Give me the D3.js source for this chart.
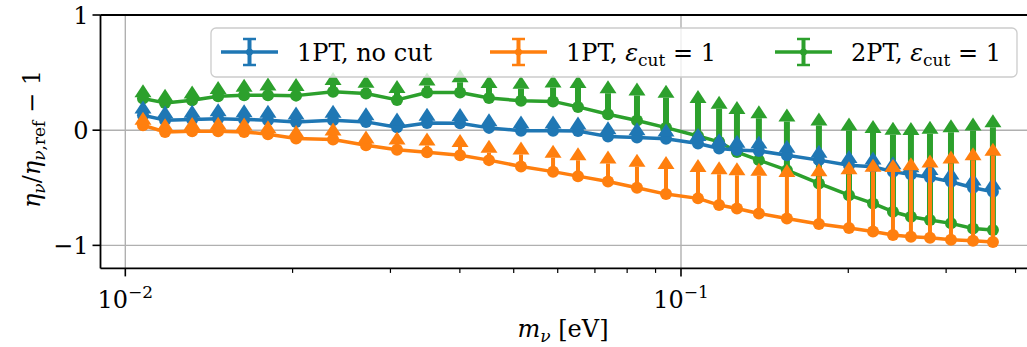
<!DOCTYPE html>
<html><head><meta charset="utf-8">
<script src="https://cdn.jsdelivr.net/npm/d3@7"></script>
<style>body{margin:0;background:#fff}svg{display:block}</style>
</head><body>
<svg id="chart" width="1027" height="347" font-family="'DejaVu Serif', 'Liberation Serif', serif"></svg>
<script>
const masses = [0.01076,0.01179,0.01319,0.01469,0.01636,0.01806,0.02029,0.02365,0.02711,0.03083,0.03491,0.04003,0.04513,0.05153,0.05885,0.06526,0.07390,0.08333,0.09398,0.1073,0.1171,0.1261,0.1381,0.1551,0.1771,0.2006,0.2216,0.2407,0.2593,0.2806,0.3061,0.3354,0.3642];
const blueVals = [0.13,0.087,0.093,0.10,0.093,0.087,0.072,0.087,0.072,0.025,0.062,0.06,0.02,-0.005,-0.005,-0.008,-0.055,-0.063,-0.075,-0.115,-0.159,-0.173,-0.18,-0.217,-0.26,-0.304,-0.318,-0.36,-0.385,-0.41,-0.448,-0.50,-0.535];
const blueErr = [0.015,0.015,0.015,0.02,0.02,0.02,0.02,0.02,0.015,0.015,0.02,0.02,0.015,0.02,0.02,0.015,0.02,0.02,0.02,0.02,0.02,0.02,0.02,0.02,0.02,0.02,0.02,0.02,0.02,0.02,0.02,0.02,0.02];
const orangeVals = [0.043,-0.015,-0.009,-0.009,-0.015,-0.035,-0.072,-0.081,-0.13,-0.17,-0.192,-0.217,-0.26,-0.315,-0.36,-0.399,-0.445,-0.50,-0.555,-0.592,-0.65,-0.68,-0.723,-0.766,-0.815,-0.85,-0.88,-0.91,-0.925,-0.934,-0.952,-0.96,-0.97];
const orangeErr = [0.005,0.005,0.01,0.012,0.012,0.008,0.005,0.035,0.015,0.045,0.06,0.07,0.065,0.104,0.121,0.139,0.156,0.182,0.217,0.228,0.267,0.289,0.327,0.36,0.416,0.467,0.52,0.546,0.578,0.611,0.662,0.70,0.749];
const greenVals = [0.275,0.237,0.26,0.295,0.304,0.304,0.30,0.333,0.318,0.263,0.327,0.327,0.28,0.255,0.25,0.202,0.138,0.084,0.022,-0.05,-0.101,-0.19,-0.26,-0.347,-0.462,-0.564,-0.636,-0.708,-0.752,-0.78,-0.809,-0.853,-0.867];
const greenErr = [0.01,0.01,0.015,0.02,0.03,0.04,0.04,0.06,0.05,0.06,0.06,0.09,0.087,0.104,0.121,0.165,0.182,0.217,0.26,0.286,0.286,0.33,0.364,0.422,0.503,0.561,0.612,0.668,0.711,0.749,0.792,0.85,0.893];
const seriesNames = ["1PT, no cut","1PT, ε_cut = 1","2PT, ε_cut = 1"];
const colors = ["#1f77b4","#ff7f0e","#2ca02c"];
const yTicks = [-1,0,1];
const xMajor = [0.01,0.1];

const svg = d3.select("#chart");
const L = 100.5, R = 1035.4, T = 15, B = 268.4;
const x = d3.scaleLog().domain([0.009023, 0.4343]).range([L, R]);
const y = d3.scaleLinear().domain([-1.2, 1.0]).range([B, T]);
const FS = 24, FSS = 17;

svg.append("defs").append("clipPath").attr("id","clip")
  .append("rect").attr("x",L).attr("y",T).attr("width",R-L).attr("height",B-T);

// grid
const grid = svg.append("g");
grid.selectAll(".gx").data(xMajor).join("line").attr("x1",d=>x(d)).attr("x2",d=>x(d)).attr("y1",T).attr("y2",B)
  .attr("stroke","#b0b0b0").attr("stroke-width",1.4);
grid.selectAll(".gy").data(yTicks).join("line").attr("x1",L).attr("x2",R).attr("y1",d=>y(d)).attr("y2",d=>y(d))
  .attr("stroke","#b0b0b0").attr("stroke-width",1.4);

// data
const series = [
  {vals: greenVals, err: greenErr, color: colors[2], ew: 6},
  {vals: blueVals, err: blueErr, color: colors[0], ew: 4},
  {vals: orangeVals, err: orangeErr, color: colors[1], ew: 4}
];
const plot = svg.append("g").attr("clip-path","url(#clip)");
const line = d3.line().x(d=>x(d.m)).y(d=>y(d.v));
series.forEach(s=>{
  const pts = masses.map((m,i)=>({m, v:s.vals[i], e:s.err[i]}));
  const g = plot.append("g");
  g.append("path").datum(pts).attr("d",line).attr("fill","none").attr("stroke",s.color).attr("stroke-width",3.5).attr("stroke-linejoin","round");
  g.selectAll(".eb").data(pts).join("line").attr("x1",d=>x(d.m)).attr("x2",d=>x(d.m)).attr("y1",d=>y(d.v)).attr("y2",d=>y(d.v+d.e))
    .attr("stroke",s.color).attr("stroke-width",s.ew);
  g.selectAll(".mk").data(pts).join("circle").attr("cx",d=>x(d.m)).attr("cy",d=>y(d.v)).attr("r",6).attr("fill",s.color);
  g.selectAll(".cr").data(pts).join("path").attr("d",d=>{const cx=x(d.m), cy=y(d.v+d.e); return `M${cx-8.5},${cy}L${cx+8.5},${cy}L${cx},${cy-13}Z`;})
    .attr("fill",s.color);
});

// spines
svg.append("line").attr("x1",L).attr("x2",L).attr("y1",T).attr("y2",B).attr("stroke","#000").attr("stroke-width",1.8);
svg.append("line").attr("x1",L).attr("x2",R).attr("y1",B).attr("y2",B).attr("stroke","#000").attr("stroke-width",1.8);
svg.append("line").attr("x1",L).attr("x2",R).attr("y1",T).attr("y2",T).attr("stroke","#000").attr("stroke-width",1.8);

// y ticks
const yt = svg.append("g");
yt.selectAll("line").data(yTicks).join("line").attr("x1",L-8).attr("x2",L).attr("y1",d=>y(d)).attr("y2",d=>y(d)).attr("stroke","#000").attr("stroke-width",1.6);
yt.selectAll("text").data(yTicks).join("text").attr("x",L-12).attr("y",d=>y(d)+8.5).attr("text-anchor","end").attr("font-size",FS)
  .text(d=>d<0?"\u2212"+Math.abs(d):d);

// x ticks
const minor = [];
[0.001,0.01,0.1].forEach(dec=>{for(let k=2;k<=9;k++){const v=dec*k; if(v>x.domain()[0]&&v<x.domain()[1]) minor.push(v);}});
const xt = svg.append("g");
xt.selectAll(".mi").data(minor).join("line").attr("x1",d=>x(d)).attr("x2",d=>x(d)).attr("y1",B).attr("y2",B+4.5).attr("stroke","#000").attr("stroke-width",1.2);
xt.selectAll(".ma").data(xMajor).join("line").attr("x1",d=>x(d)).attr("x2",d=>x(d)).attr("y1",B).attr("y2",B+8).attr("stroke","#000").attr("stroke-width",1.6);
xMajor.forEach(d=>{
  const t = xt.append("text").attr("x",x(d)).attr("y",308).attr("text-anchor","middle").attr("font-size",FS);
  t.append("tspan").text("10");
  t.append("tspan").attr("dy",-10).attr("font-size",FSS).text("\u2212"+Math.round(-Math.log10(d)));
});

// axis labels
const xl = svg.append("text").attr("x",563).attr("y",337).attr("text-anchor","middle").attr("font-size",FS);
xl.append("tspan").attr("font-style","italic").text("m");
xl.append("tspan").attr("font-style","italic").attr("font-size",FSS).attr("dy",5).text("ν");
xl.append("tspan").attr("dy",-5).text(" [eV]");

const yl = svg.append("text").attr("transform","translate(40,139) rotate(-90)").attr("text-anchor","middle").attr("font-size",FS);
yl.append("tspan").attr("font-style","italic").text("η");
yl.append("tspan").attr("font-style","italic").attr("font-size",FSS).attr("dy",5).text("ν");
yl.append("tspan").attr("dy",-5).text("/");
yl.append("tspan").attr("font-style","italic").text("η");
yl.append("tspan").attr("font-size",FSS).attr("font-style","italic").attr("dy",5).text("ν");
yl.append("tspan").attr("font-size",FSS).text(",ref");
yl.append("tspan").attr("dy",-5).text(" \u2212 1");

// legend
const lg = svg.append("g");
lg.append("rect").attr("x",211).attr("y",28).attr("width",806).attr("height",49).attr("rx",5)
  .attr("fill","#fff").attr("fill-opacity",0.8).attr("stroke","#cccccc").attr("stroke-width",1.3);
const legX = [221, 490, 775];
const legY = 52;
seriesNames.forEach((name,i)=>{
  const g = lg.append("g");
  const x0 = legX[i];
  g.append("line").attr("x1",x0).attr("x2",x0+57).attr("y1",legY).attr("y2",legY).attr("stroke",colors[i]).attr("stroke-width",3.5);
  g.append("line").attr("x1",x0+28.5).attr("x2",x0+28.5).attr("y1",legY-13).attr("y2",legY+13).attr("stroke",colors[i]).attr("stroke-width",4);
  g.append("line").attr("x1",x0+22).attr("x2",x0+35).attr("y1",legY-13).attr("y2",legY-13).attr("stroke",colors[i]).attr("stroke-width",2.5);
  g.append("line").attr("x1",x0+22).attr("x2",x0+35).attr("y1",legY+13).attr("y2",legY+13).attr("stroke",colors[i]).attr("stroke-width",2.5);
  g.append("circle").attr("cx",x0+28.5).attr("cy",legY).attr("r",3.5).attr("fill",colors[i]);
  const t = g.append("text").attr("x",x0+76).attr("y",legY+8.5).attr("font-size",FS);
  const parts = name.split("ε_cut");
  if(parts.length===1){ t.text(name); }
  else {
    t.append("tspan").text(parts[0]);
    t.append("tspan").attr("font-style","italic").text("ε");
    t.append("tspan").attr("font-size",FSS).attr("dy",5).text("cut");
    t.append("tspan").attr("dy",-5).text(parts[1]);
  }
});
</script>
</body></html>
